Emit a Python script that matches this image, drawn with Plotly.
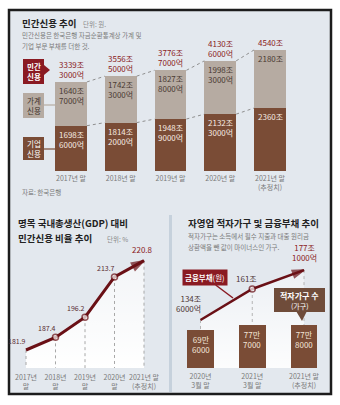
import plotly.graph_objects as go

W, H = 340, 405
FONT = "Noto Sans CJK KR"

# ---------------- data ----------------
years_top = ["2017년 말", "2018년 말", "2019년 말", "2020년 말", "2021년 말<br>(추정치)"]
household = [1640.7, 1742.3, 1827.8, 1998.3, 2180.0]
corporate = [1698.6, 1814.2, 1948.9, 2132.3, 2360.0]
total = [3339.3, 3556.5, 3776.7, 4130.6, 4540.0]
household_lbl = ["1640조<br>7000억", "1742조<br>3000억", "1827조<br>8000억", "1998조<br>3000억", "2180조"]
corporate_lbl = ["1698조<br>6000억", "1814조<br>2000억", "1948조<br>9000억", "2132조<br>3000억", "2360조"]
total_lbl = ["3339조<br>3000억", "3556조<br>5000억", "3776조<br>7000억", "4130조<br>6000억", "4540조"]

years_ratio = ["2017년<br>말", "2018년<br>말", "2019년<br>말", "2020년<br>말", "2021년 말<br>(추정치)"]
ratio = [181.9, 187.4, 196.2, 213.7, 220.8]
ratio_lbl = ["181.9", "187.4", "196.2", "213.7", "220.8"]

periods_se = ["2020년<br>3월 말", "2021년<br>3월 말", "2021년 말<br>(추정치)"]
deficit_households = [696000, 777000, 778000]
deficit_lbl = ["69만<br>6000", "77만<br>7000", "77만<br>8000"]
fin_debt = [134.6, 161.0, 177.1]
fin_debt_lbl = ["134조<br>6000억", "161조", "177조<br>1000억"]

# ---------------- styling ----------------
BROWN = "#7a4c36"
GRAYB = "#b6aba2"
RED = "#8a1a22"
MAROON = "#6a1016"
BG = "#e3e8ee"
TXT_GRAY = "#7a7a7a"


def X(p):
    return p / W


def Y(p):
    return 1 - p / H


fig = go.Figure()

# ---------- top: stacked bars ----------
idx_top = list(range(len(years_top)))
bw = 0.64
fig.add_trace(go.Bar(x=idx_top, y=corporate, width=bw, marker=dict(color=BROWN, line_width=0),
                     xaxis="x", yaxis="y", hoverinfo="skip"))
fig.add_trace(go.Bar(x=idx_top, y=household, width=bw, marker=dict(color=GRAYB, line_width=0),
                     xaxis="x", yaxis="y", hoverinfo="skip"))
seg_x, seg_y = [], []
for series in (total, corporate):
    for i in range(len(series) - 1):
        seg_x += [i + bw / 2, i + 1 - bw / 2, None]
        seg_y += [series[i], series[i + 1], None]
fig.add_trace(go.Scatter(x=seg_x, y=seg_y, mode="lines",
                         line=dict(color="#8f8f8f", width=1, dash="dot"),
                         xaxis="x", yaxis="y", hoverinfo="skip"))

# ---------- bottom-left: ratio line ----------
n = len(ratio)
idx_r = list(range(n))
ybot2, ytop2 = 174.06, 225.45
fig.add_trace(go.Scatter(x=idx_r, y=ratio, mode="none", fill="tozeroy",
                         fillgradient=dict(type="vertical", start=ybot2, stop=max(ratio),
                                           colorscale=[[0, "rgba(255,255,255,1)"],
                                                       [1, "rgba(255,255,255,0.55)"]]),
                         xaxis="x2", yaxis="y2", hoverinfo="skip"))
vx, vy = [], []
for i, v in enumerate(ratio):
    vx += [i, i, None]
    vy += [v, ybot2, None]
fig.add_trace(go.Scatter(x=vx, y=vy, mode="lines", line=dict(color="#a8a8a8", width=1, dash="dot"),
                         xaxis="x2", yaxis="y2", hoverinfo="skip"))
fig.add_trace(go.Scatter(x=idx_r, y=ratio, mode="lines+markers",
                         line=dict(color=MAROON, width=3),
                         marker=dict(symbol=["circle"] * (n - 1) + ["arrow"], angleref="previous",
                                     size=[6] * (n - 1) + [13],
                                     color=["white"] * (n - 1) + [MAROON],
                                     line=dict(color=MAROON, width=1.5)),
                         xaxis="x2", yaxis="y2", hoverinfo="skip"))

# ---------- bottom-right: deficit households & debt ----------
m = len(fin_debt)
idx_s = list(range(m))
ybot3, ytop3 = 93.71, 194.22
fig.add_trace(go.Scatter(x=idx_s, y=fin_debt, mode="none", fill="tozeroy",
                         fillgradient=dict(type="vertical", start=ybot3, stop=max(fin_debt),
                                           colorscale=[[0, "rgba(255,255,255,0.9)"],
                                                       [1, "rgba(255,255,255,0.35)"]]),
                         xaxis="x3", yaxis="y3", hoverinfo="skip"))
wx, wy = [], []
for i, v in enumerate(fin_debt):
    wx += [i, i, None]
    wy += [v, ybot3, None]
fig.add_trace(go.Scatter(x=wx, y=wy, mode="lines", line=dict(color="#b4b4b4", width=1, dash="dot"),
                         xaxis="x3", yaxis="y3", hoverinfo="skip"))
fig.add_trace(go.Scatter(x=idx_s, y=fin_debt, mode="lines+markers",
                         line=dict(color=MAROON, width=2.5),
                         marker=dict(symbol=["circle"] * (m - 1) + ["arrow"], angleref="previous",
                                     size=[6] * (m - 1) + [12],
                                     color=["white"] * (m - 1) + [MAROON],
                                     line=dict(color=MAROON, width=1.5)),
                         xaxis="x3", yaxis="y3", hoverinfo="skip"))
fig.add_trace(go.Bar(x=idx_s, y=deficit_households, width=0.52, marker=dict(color=BROWN, line_width=0),
                     xaxis="x3", yaxis="y4", hoverinfo="skip"))

# ---------------- annotations ----------------
ann = []


def A(text, x, y, size=8, color="#222", xanchor="left", yanchor="middle", xref="paper", yref="paper",
      xshift=0, yshift=0, align="left", **kw):
    d = dict(text=text, x=x, y=y, xref=xref, yref=yref, xanchor=xanchor, yanchor=yanchor,
             showarrow=False, xshift=xshift, yshift=yshift, align=align,
             font=dict(family=FONT, size=size, color=color))
    d.update(kw)
    ann.append(d)


# top titles
A("<b>민간신용 추이</b>", X(20), Y(23), size=9.5)
A("단위: 원.", X(81), Y(24), size=6.5, color="#8a8a8a")
A("민간신용은 한국은행 자금순환통계상 가계 및", X(20), Y(35), size=6.5, color=TXT_GRAY)
A("기업 부문 부채를 더한 것.", X(20), Y(46), size=6.5, color=TXT_GRAY)
A("자료: 한국은행", X(20), Y(192), size=6.5, color=TXT_GRAY)

# bar value labels
for i in idx_top:
    A(total_lbl[i], i, total[i], size=8, color=RED, xanchor="center", yanchor="bottom",
      xref="x", yref="y", yshift=0, align="center")
    A(household_lbl[i], i, total[i], size=8, color="#4a3a32", xanchor="center", yanchor="top",
      xref="x", yref="y", yshift=-1, align="center")
    A(corporate_lbl[i], i, corporate[i], size=8, color="#f6ebe2", xanchor="center", yanchor="top",
      xref="x", yref="y", yshift=-1, align="center")

# side label boxes text
A("<b>민간<br>신용</b>", X(33.5), Y(71.5), size=7.5, color="white", xanchor="center", align="center")
A("가계<br>신용", X(33.5), Y(105.5), size=7.5, color="#3c3029", xanchor="center", align="center")
A("기업<br>신용", X(33.5), Y(148.5), size=7.5, color="white", xanchor="center", align="center")

# bottom-left titles
A("<b>명목 국내총생산(GDP) 대비</b>", X(16), Y(223), size=9.5)
A("<b>민간신용 비율 추이</b>", X(16), Y(238), size=9.5)
A("단위: %", X(105), Y(239), size=6.5, color="#8a8a8a")
for i in idx_r:
    last = i == n - 1
    A(ratio_lbl[i], i, ratio[i], size=8 if last else 7, color=RED if last else "#5b2e33",
      xanchor="right", yanchor="bottom", xref="x2", yref="y2",
      xshift=11 if last else 2, yshift=4 if last else 2)

# bottom-right titles
A("<b>자영업 적자가구 및 금융부채 추이</b>", X(186), Y(223), size=9.5)
A("적자가구는 소득에서 필수 지출과 대출 원리금", X(186), Y(236), size=6.5, color=TXT_GRAY)
A("상환액을 뺀 값이 마이너스인 가구.", X(186), Y(247), size=6.5, color=TXT_GRAY)
for i in idx_s:
    A(deficit_lbl[i], i, deficit_households[i], size=8, color="#f3e5d9", xanchor="center",
      yanchor="top", xref="x3", yref="y4", yshift=-2, align="center")
debt_anchor = ["right", "right", "center"]
debt_xshift = [2, 7, 0]
debt_yshift = [4, 3, 5]
debt_color = ["#4d3535", "#4d3535", RED]
for i in idx_s:
    A(fin_debt_lbl[i], i, fin_debt[i], size=8, color=debt_color[i], xanchor=debt_anchor[i],
      yanchor="bottom", xref="x3", yref="y3", xshift=debt_xshift[i], yshift=debt_yshift[i],
      align="right" if debt_anchor[i] == "right" else "center")

# callout: 금융부채(원)
ann.append(dict(text="<b>금융부채</b>(원)", x=X(233), y=Y(298), xref="paper", yref="paper",
                ax=-28, ay=-21, axref="pixel", ayref="pixel", showarrow=True, arrowhead=0,
                arrowwidth=1.5, arrowcolor=RED, bgcolor=RED, borderpad=2,
                font=dict(family=FONT, size=7.5, color="white")))
# callout: 적자가구 수
A("<b>적자가구 수</b>", X(299.5), Y(295), size=8, color="white", xanchor="center")
A("(가구)", X(299.5), Y(306), size=7, color="white", xanchor="center")

# ---------------- shapes ----------------
shapes = [
    dict(type="rect", xref="paper", yref="paper", x0=X(9), x1=X(331), y0=Y(394), y1=Y(10),
         fillcolor=BG, line=dict(color="#1c1c1c", width=2.5), layer="below"),
    dict(type="rect", xref="paper", yref="paper", x0=X(169), x1=X(172), y0=Y(392), y1=Y(215),
         fillcolor="#c6d1dc", line=dict(width=0), layer="below"),
    # side label boxes
    dict(type="rect", xref="paper", yref="paper", x0=X(23), x1=X(44), y0=Y(84), y1=Y(59),
         fillcolor=RED, line=dict(width=0)),
    dict(type="path", xref="paper", yref="paper",
         path=f"M {X(44)} {Y(65)} L {X(50)} {Y(70)} L {X(44)} {Y(75)} Z", fillcolor=RED, line=dict(width=0)),
    dict(type="rect", xref="paper", yref="paper", x0=X(23), x1=X(44), y0=Y(118), y1=Y(93),
         fillcolor=GRAYB, line=dict(width=0)),
    dict(type="line", xref="paper", yref="paper", x0=X(44), x1=X(55), y0=Y(105), y1=Y(105),
         line=dict(color=GRAYB, width=1.2)),
    dict(type="rect", xref="paper", yref="paper", x0=X(23), x1=X(44), y0=Y(160), y1=Y(137),
         fillcolor=BROWN, line=dict(width=0)),
    dict(type="line", xref="paper", yref="paper", x0=X(44), x1=X(55), y0=Y(149), y1=Y(149),
         line=dict(color=BROWN, width=1.2)),
    # 적자가구 수 box
    dict(type="rect", xref="paper", yref="paper", x0=X(274), x1=X(325), y0=Y(312), y1=Y(288),
         fillcolor="#6f4c3a", line=dict(width=0)),
    dict(type="path", xref="paper", yref="paper",
         path=f"M {X(296)} {Y(311)} L {X(307)} {Y(311)} L {X(302)} {Y(321)} Z",
         fillcolor="#6f4c3a", line=dict(width=0)),
]

# ---------------- layout ----------------
ax_common = dict(showgrid=False, zeroline=False, showline=False, ticks="",
                 tickfont=dict(family=FONT, size=7, color=TXT_GRAY))

fig.update_layout(
    width=W, height=H, margin=dict(l=0, r=0, t=0, b=0),
    paper_bgcolor="white", plot_bgcolor="rgba(0,0,0,0)",
    showlegend=False, barmode="stack", font=dict(family=FONT),
    xaxis=dict(domain=[0, 1], range=[-71 / 49.75, 4 + 70 / 49.75], tickvals=idx_top,
               ticktext=years_top, anchor="y", ticklabelstandoff=2, **ax_common),
    yaxis=dict(domain=[Y(171), Y(10)], range=[0, 161 * 37.5], visible=False, anchor="x"),
    xaxis2=dict(domain=[0, 0.5], range=[-26 / 29.5, 4 + 26 / 29.5], tickvals=idx_r,
                ticktext=years_ratio, anchor="y2", ticklabelstandoff=4, **ax_common),
    yaxis2=dict(domain=[Y(368), Y(250)], range=[ybot2, ytop2], visible=False, anchor="x2"),
    xaxis3=dict(domain=[0.5, 1], range=[(170 - 200.5) / 51.75, 2 + (340 - 304) / 51.75],
                tickvals=idx_s, ticktext=periods_se, anchor="y3", ticklabelstandoff=3, **ax_common),
    yaxis3=dict(domain=[Y(368), Y(250)], range=[ybot3, ytop3], visible=False, anchor="x3"),
    yaxis4=dict(overlaying="y3", range=[0, 2135070], visible=False, anchor="x3"),
    annotations=ann, shapes=shapes,
)

fig.write_html("out.html")
